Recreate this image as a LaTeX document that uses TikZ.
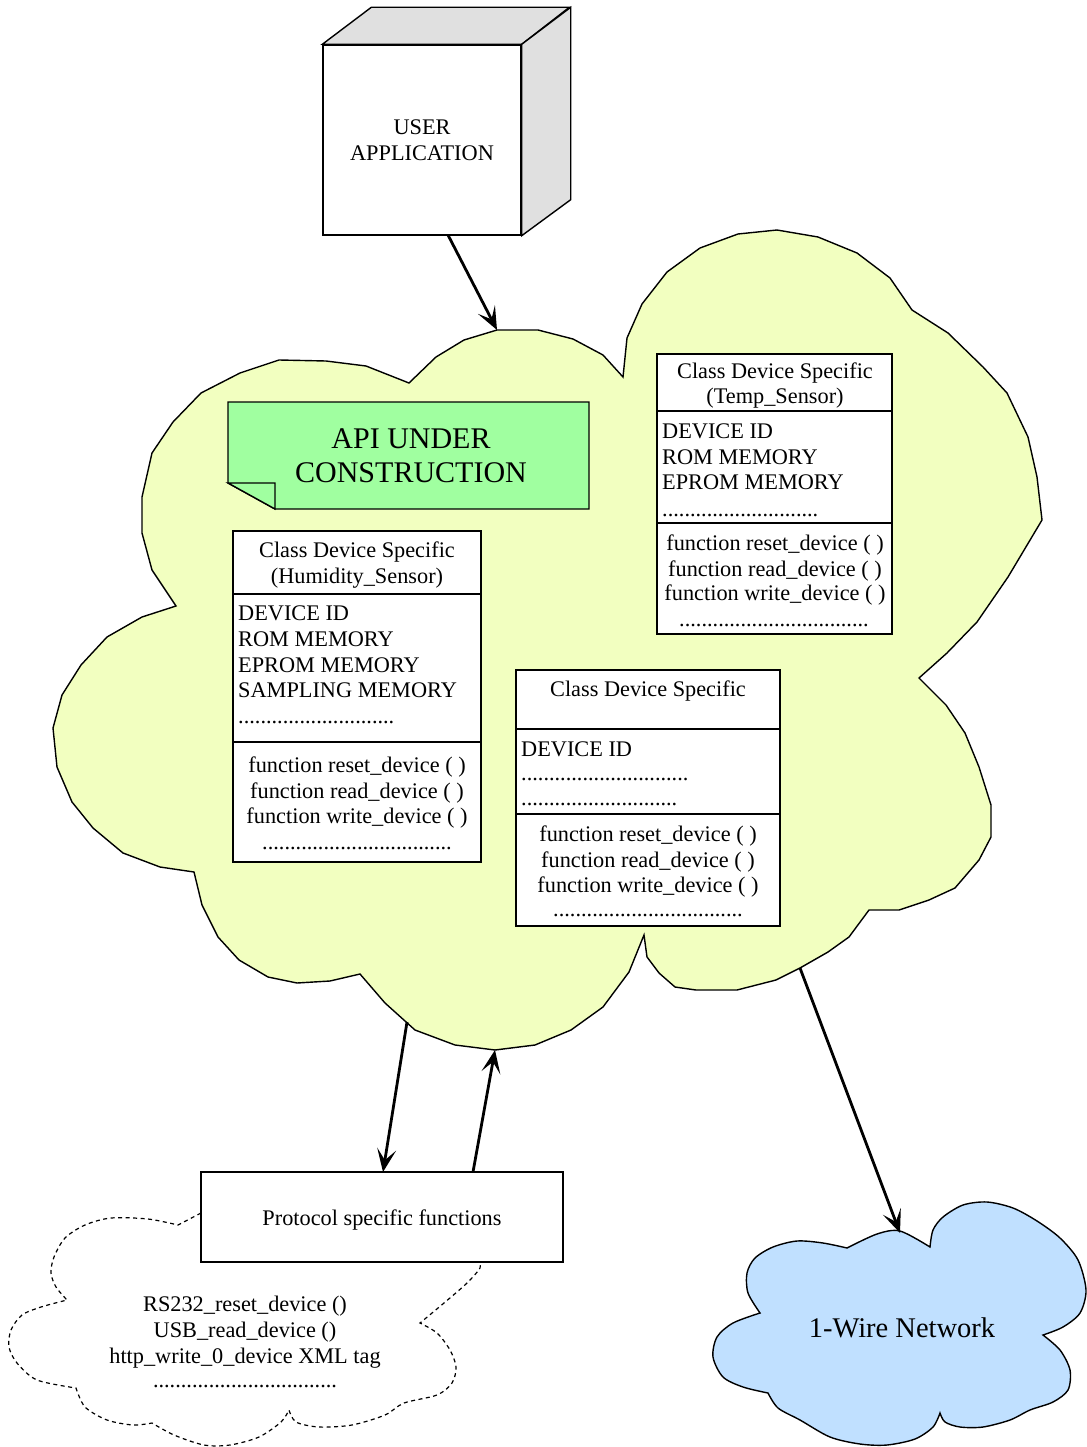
\documentclass[tikz,border=0pt]{standalone}
\usepackage{fontspec}
\setmainfont{Liberation Serif}
\usetikzlibrary{arrows.meta,calc}
\definecolor{cloudyellow}{HTML}{F2FFC0}
\definecolor{notegreen}{HTML}{A0FFA0}
\definecolor{cubegray}{HTML}{E0E0E0}
\definecolor{netblue}{HTML}{C0E0FF}
\tikzset{
  arrowhd/.tip={Stealth[length=23pt,width=19pt,inset=11pt]},
}
\begin{document}
\begin{tikzpicture}[x=1pt,y=-1pt,
  outline/.style={draw=black, line width=1.4pt},
  conn/.style={line width=2.8pt, -arrowhd},
  txt/.style={inner sep=0pt, font=\fontsize{22.3}{26}\selectfont},
  lt/.style={txt, anchor=base west},
  ct/.style={txt, anchor=base},
  umlbox/.style={outline, fill=white, inner sep=0pt},
]
\useasboundingbox (0,0) rectangle (1086,1447);

% ---------- big API cloud ----------
\draw[outline, fill=cloudyellow]
 (497,330) -- (538,330) -- (573,339) -- (603,355) -- (623,377) -- (627,338) -- (642,304) -- (667,272)
 -- (700,248) -- (738,234) -- (777,230) -- (818,237) -- (857,253) -- (890,278) -- (912,310) -- (948,333)
 -- (983,367) -- (1007,393) -- (1028,437) -- (1037,477) -- (1042,520) -- (1008,577) -- (977,622) -- (947,653)
 -- (919,678) -- (946,705) -- (965,733) -- (979,767) -- (991,805) -- (991,837) -- (979,860) -- (955,888)
 -- (929,900) -- (899,910) -- (869,910) -- (849,937) -- (828,952) -- (800,968) -- (776,980) -- (737,990)
 -- (696,990) -- (675,987) -- (659,973) -- (647,957) -- (644,935) -- (629,972) -- (603,1007) -- (571,1030)
 -- (535,1045) -- (495,1050) -- (455,1045) -- (415,1030) -- (385,1003) -- (360,974) -- (330,981) -- (297,983)
 -- (268,977) -- (239,960) -- (218,937) -- (202,905) -- (194,872) -- (160,867) -- (123,853) -- (93,828)
 -- (72,802) -- (57,767) -- (53,728) -- (62,695) -- (81,665) -- (107,637) -- (142,617) -- (176,606)
 -- (152,570) -- (142,533) -- (142,497) -- (152,453) -- (173,422) -- (201,393) -- (240,373) -- (279,360)
 -- (326,361) -- (366,366) -- (409,383) -- (436,357) -- (464,340) -- cycle;
\coordinate (apiIn) at (497,330);
\coordinate (apiOutL) at (407,1022);
\coordinate (apiInB) at (495,1050);
\coordinate (apiOutR) at (800,968);

% ---------- user application cube ----------
\node[outline, fill=white, minimum width=198pt, minimum height=190pt, inner sep=0pt] (userapp) at (422,140) {};
\draw[outline, fill=cubegray] (userapp.north west) -- ++(49,-37) -- ++(198,0) -- (userapp.north east) -- cycle;
\draw[outline, fill=cubegray] (userapp.north east) -- ++(49,-37) -- ($(userapp.south east)+(49,-36)$) -- (userapp.south east) -- cycle;
\node[ct] (ua1) at (422,135) {USER};
\node[ct] (ua2) at (422,161) {APPLICATION};
\coordinate (userOut) at (448,235);

% ---------- API under construction note ----------
\draw[outline, fill=notegreen] (228,402) -- (589,402) -- (589,509) -- (275,509) -- (228,483) -- cycle;
\draw[outline, fill=notegreen] (228,483) -- (275,483) -- (275,509) -- cycle;
\node[ct, font=\fontsize{30}{34}\selectfont] (api1) at (411,448) {API UNDER};
\node[ct, font=\fontsize{30}{34}\selectfont] (api2) at (411,482) {CONSTRUCTION};

% ---------- Temp sensor class ----------
\node[umlbox, minimum width=235pt, minimum height=280pt] (temp) at (774.5,494) {};
\draw[outline] (temp.west |- 0,411) -- (temp.east |- 0,411);
\draw[outline] (temp.west |- 0,523) -- (temp.east |- 0,523);
\node[ct] (tH1) at (775,378) {Class Device Specific};
\node[ct] (tH2) at (775,403) {(Temp\_Sensor)};
\node[lt] (tA1) at (662,438) {DEVICE ID};
\node[lt] (tA2) at (662,464) {ROM MEMORY};
\node[lt] (tA3) at (662,489) {EPROM MEMORY};
\node[lt] (tA4) at (662,516) {............................};
\node[ct] (tM1) at (775,550) {function reset\_device ( )};
\node[ct] (tM2) at (775,576) {function read\_device ( )};
\node[ct] (tM3) at (775,600) {function write\_device ( )};
\node[ct] (tM4) at (774,626) {..................................};

% ---------- Humidity sensor class ----------
\node[umlbox, minimum width=248pt, minimum height=331pt] (hum) at (357,696.5) {};
\draw[outline] (hum.west |- 0,594) -- (hum.east |- 0,594);
\draw[outline] (hum.west |- 0,742) -- (hum.east |- 0,742);
\node[ct] (hH1) at (357,557) {Class Device Specific};
\node[ct] (hH2) at (357,583) {(Humidity\_Sensor)};
\node[lt] (hA1) at (238,620) {DEVICE ID};
\node[lt] (hA2) at (238,646) {ROM MEMORY};
\node[lt] (hA3) at (238,672) {EPROM MEMORY};
\node[lt] (hA4) at (238,697) {SAMPLING MEMORY};
\node[lt] (hA5) at (238,723) {............................};
\node[ct] (hM1) at (357,772) {function reset\_device ( )};
\node[ct] (hM2) at (357,798) {function read\_device ( )};
\node[ct] (hM3) at (357,823) {function write\_device ( )};
\node[ct] (hM4) at (357,849) {..................................};

% ---------- Generic class ----------
\node[umlbox, minimum width=264pt, minimum height=256pt] (gen) at (648,798) {};
\draw[outline] (gen.west |- 0,729) -- (gen.east |- 0,729);
\draw[outline] (gen.west |- 0,814) -- (gen.east |- 0,814);
\node[ct] (gH1) at (648,696) {Class Device Specific};
\node[lt] (gA1) at (521,756) {DEVICE ID};
\node[lt] (gA2) at (521,780) {..............................};
\node[lt] (gA3) at (521,805) {............................};
\node[ct] (gM1) at (648,841) {function reset\_device ( )};
\node[ct] (gM2) at (648,867) {function read\_device ( )};
\node[ct] (gM3) at (648,892) {function write\_device ( )};
\node[ct] (gM4) at (648,916) {..................................};

% ---------- dashed protocol cloud ----------
\draw[line width=1.2pt, dash pattern=on 4pt off 3.5pt]
 (201,1213) -- (178,1225)
 -- plot[smooth] coordinates {(178,1225) (148,1219) (111,1218) (85,1225) (65,1238) (54,1257) (51,1273) (56,1287) (67,1300)}
 -- plot[smooth] coordinates {(67,1300) (41,1307) (22,1315) (11,1330) (9,1347) (17,1363) (37,1380) (76,1388)}
 -- plot[smooth] coordinates {(76,1388) (85,1407) (107,1420) (133,1425) (152,1423)}
 -- plot[smooth] coordinates {(152,1423) (174,1435) (204,1445) (230,1445) (259,1437) (281,1422) (289,1410)}
 -- plot[smooth] coordinates {(289,1410) (296,1422) (319,1427) (352,1425) (385,1415) (404,1403) (437,1395) (452,1383) (456,1367) (450,1350) (437,1333) (420,1323)}
 -- plot[smooth] coordinates {(420,1323) (444,1303) (467,1283) (480,1268) (478,1262)};
\node[ct] (p1) at (245,1311) {RS232\_reset\_device ()};
\node[ct] (p2) at (245,1337) {USB\_read\_device ()};
\node[ct] (p3) at (245,1363) {http\_write\_0\_device XML tag};
\node[ct] (p4) at (245,1387) {.................................};

% ---------- protocol box ----------
\node[umlbox, minimum width=362pt, minimum height=90pt] (proto) at (382,1217) {};
\node[ct] (protoTxt) at (382,1225) {Protocol specific functions};
\coordinate (protoIn) at (383,1172);
\coordinate (protoOut) at (473,1172);

% ---------- 1-Wire network cloud ----------
\draw[outline, fill=netblue]
 plot[smooth] coordinates {(847,1248) (877,1234) (900,1231) (930,1247)}
 -- plot[smooth] coordinates {(930,1247) (933,1230) (943,1217) (963,1205) (987,1202) (1013,1208) (1037,1221) (1060,1238) (1078,1260) (1086,1290) (1080,1313) (1063,1327) (1043,1335)}
 -- plot[smooth] coordinates {(1043,1335) (1060,1350) (1070,1370) (1068,1390) (1053,1402) (1030,1410) (1010,1420) (983,1427) (960,1427) (945,1422) (940,1413)}
 -- plot[smooth] coordinates {(940,1413) (933,1427) (915,1439) (887,1445) (860,1444) (830,1437) (800,1420) (778,1408) (768,1393)}
 -- plot[smooth] coordinates {(768,1393) (743,1387) (723,1377) (713,1357) (717,1337) (733,1323) (760,1313)}
 -- plot[smooth] coordinates {(760,1313) (748,1293) (747,1273) (755,1258) (773,1247) (797,1241) (823,1243) (847,1248)}
 -- cycle;
\coordinate (netIn) at (900,1233);
\node[ct, font=\fontsize{28.5}{32}\selectfont] (net) at (902,1337) {1-Wire Network};

% ---------- connectors ----------
\draw[conn] (userOut) -- (apiIn);
\draw[conn] (apiOutL) -- (protoIn);
\draw[conn] (protoOut) -- (apiInB);
\draw[conn] (apiOutR) -- (netIn);
\end{tikzpicture}
\end{document}
